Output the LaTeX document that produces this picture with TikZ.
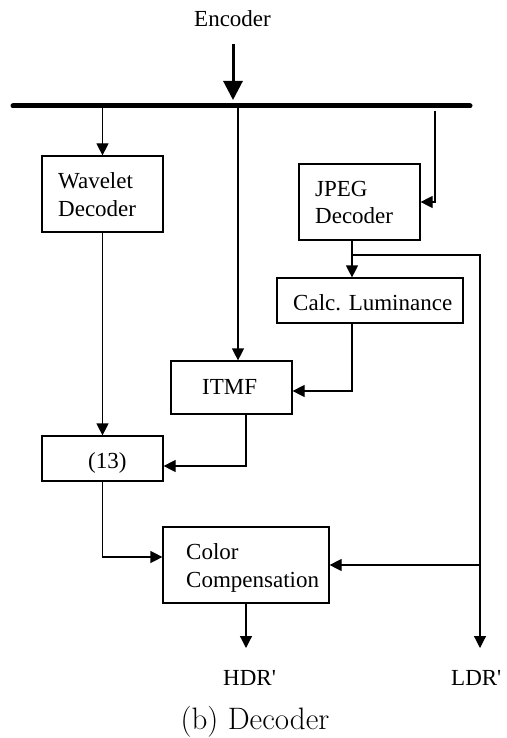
\documentclass[tikz,border=0pt]{standalone}
\usepackage{fontspec}
\newfontfamily\tnr[Ligatures=TeXOff]{Liberation Serif}
\usetikzlibrary{arrows.meta}
\begin{document}
\begin{tikzpicture}[x=1pt,y=-1pt,
  box/.style={draw,line width=1.2pt,rectangle,inner sep=0pt},
  lbl/.style={font=\tnr\fontsize{23}{27}\selectfont,anchor=base west,inner sep=0pt},
  conn/.style={line width=1.2pt},
  arr/.style={conn,-{Triangle[length=12pt,width=12pt]}}]
\useasboundingbox (0,0) rectangle (506,738);
% boxes
\node[box,minimum width=121pt,minimum height=76pt] (wav) at (102.5,194) {};
\node[box,minimum width=121pt,minimum height=76pt] (jpeg) at (359.5,202) {};
\node[box,minimum width=186pt,minimum height=45pt] (calc) at (370,300.5) {};
\node[box,minimum width=121pt,minimum height=53pt] (itmf) at (231.5,387.5) {};
\node[box,minimum width=121pt,minimum height=45pt] (n13) at (102.5,458.5) {};
\node[box,minimum width=166pt,minimum height=76pt] (col) at (246,565) {};
% texts
\node[lbl] (encT) at (194,27) {Encoder};
\node[lbl] (wavT1) at (58,188) {Wavelet};
\node[lbl] (wavT2) at (58,216) {Decoder};
\node[lbl] (jpegT1) at (315,196) {JPEG};
\node[lbl] (jpegT2) at (315,223) {Decoder};
\node[lbl] (calcT) at (293,310) {Calc. Luminance};
\node[lbl] (itmfT) at (202,394) {ITMF};
\node[lbl] (n13T) at (88,468) {(13)};
\node[lbl] (colT1) at (186,559) {Color};
\node[lbl] (colT2) at (186,587) {Compensation};
\node[lbl] (hdrT) at (223,685) {HDR'};
\node[lbl] (ldrT) at (451,685) {LDR'};
\node[font=\fontsize{31}{36}\selectfont,anchor=base,inner sep=0pt] (cap) at (255,729) {(b) Decoder};
% coordinates
\coordinate (encA) at (233,44);
\coordinate (encB) at (233,100);
\coordinate (busL) at (13,106);
\coordinate (busR) at (470,106);
\coordinate (bw) at (102.5,106);
\coordinate (bi) at (238,106);
\coordinate (bj) at (435,111);
\coordinate (jb) at ([xshift=-7.5pt]jpeg.south);
\coordinate (jj) at (352,255);
\coordinate (ldrA) at (480,648);
\coordinate (lj) at (480,565);
\coordinate (cb) at ([xshift=-18pt]calc.south);
\coordinate (ib) at ([xshift=14.5pt]itmf.south);
\coordinate (hA) at (246,648);
% bus and encoder arrow
\draw[line width=5pt,line cap=round] (busL) -- (busR);
\draw[line width=3pt,-{Triangle[length=19pt,width=19pt]}] (encA) -- (encB);
% connectors
\draw[arr] (bw) -- (wav.north);
\draw[arr] (bi) -- (bi |- itmf.north);
\draw[arr] (bj) |- (jpeg.east);
\draw[arr] (jb) -- (jb |- calc.north);
\draw[arr] (jj) -| (ldrA);
\draw[arr] (cb) |- ([yshift=-3.5pt]itmf.east);
\draw[arr] (ib) |- ([yshift=-7.5pt]n13.east);
\draw[arr] (wav.south) -- (n13.north);
\draw[arr] (n13.south) |- ([yshift=8pt]col.west);
\draw[arr] (lj) -- (col.east);
\draw[arr] (col.south) -- (hA);
\end{tikzpicture}
\end{document}
